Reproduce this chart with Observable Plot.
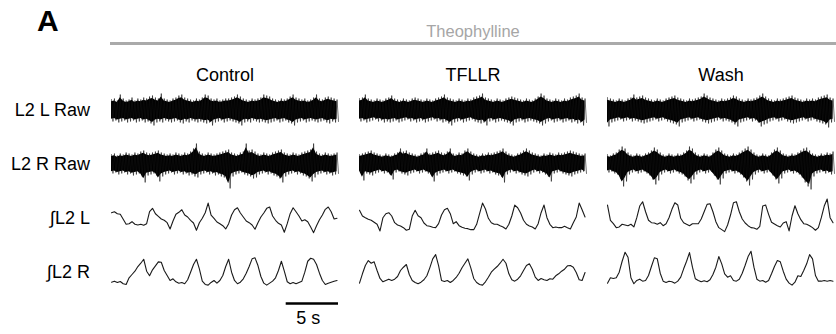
<!DOCTYPE html>
<html><head><meta charset="utf-8">
<script src="https://cdn.jsdelivr.net/npm/d3@7"></script>
<script src="https://cdn.jsdelivr.net/npm/@observablehq/plot@0.6"></script>
<style>
body{margin:0;background:#fff;font-family:"Liberation Sans",Arial,sans-serif;}
#wrap{position:relative;width:836px;height:334px;overflow:hidden;}
#hdr{position:relative;width:836px;height:50px;}
.A{position:absolute;left:37px;top:6.3px;font-size:30px;font-weight:bold;line-height:1;color:#000;}
.drug{position:absolute;left:110px;width:726px;top:23.3px;font-size:16.5px;line-height:1;color:#a6a6a6;text-align:center;}
.rule{position:absolute;left:110px;width:726px;top:42px;height:3px;background:#aaaaaa;}
#chart svg{display:block;}
</style></head><body>
<div id="wrap">
  <div id="hdr"><div class="A">A</div><div class="drug">Theophylline</div><div class="rule"></div></div>
  <div id="chart"></div>
</div>
<script>
// ---- categories ----
const conditions = ["Control", "TFLLR", "Wash"];
const channels = ["L2 L Raw", "L2 R Raw", "∫L2 L", "∫L2 R"];
const dt = 0.28;          // sample interval, s
const T = 21.7;           // seconds shown per condition
const scaleSeconds = 5;

// ---- raw trace envelopes (a.u., upper / lower) ----
const ctlRawLUp = [11,12,10,16,12,10,11,13,10,12, 11,13,12,14,15,13,12,17,12,11, 10,12,13,15,16,13,12,11,10,12, 11,13,16,15,12,11,12,10,11,12, 12,13,14,16,14,12,11,10,12,11, 12,13,16,15,14,12,11,10,12,11, 12,14,16,13,12,11,12,10,11,13, 16,12,11,13,14,13,12,11];
const ctlRawLDn = [-11,-10,-12,-11,-10,-12,-11,-10,-12,-11, -10,-12,-11,-13,-15,-12,-11,-12,-10,-11, -12,-11,-10,-12,-13,-11,-12,-10,-11,-12, -11,-12,-13,-12,-15,-12,-11,-10,-12,-11, -10,-11,-12,-13,-15,-12,-11,-12,-10,-11, -12,-11,-12,-13,-12,-11,-10,-12,-11,-10, -12,-13,-15,-12,-11,-10,-12,-11,-10,-11, -12,-11,-10,-12,-13,-11,-12,-11];
const ctlRawRUp = [10,11,9,11,10,12,11,10,12,11, 13,14,12,11,12,13,14,12,11,10, 11,10,12,11,10,12,11,13,16,21, 13,11,10,12,11,10,11,12,13,14, 15,12,11,10,12,13,21,14,15,13, 11,10,12,11,10,12,13,14,15,12, 11,10,12,11,10,12,13,14,15,21, 13,11,10,12,11,10,11,12];
const ctlRawRDn = [-9,-8,-10,-9,-8,-10,-9,-11,-10,-9, -12,-18,-11,-10,-9,-11,-17,-12,-10,-9, -8,-10,-9,-8,-10,-9,-11,-10,-12,-13, -10,-9,-8,-10,-9,-11,-10,-12,-13,-15, -24,-12,-10,-9,-8,-10,-11,-12,-14,-13, -10,-9,-8,-10,-9,-11,-12,-14,-18,-12, -10,-9,-8,-10,-9,-11,-12,-14,-17,-13, -10,-9,-8,-10,-9,-11,-10,-9];
const tfRawLUp = [12,13,16,12,11,10,12,11,10,12, 13,15,12,11,10,12,11,10,12,13, 12,11,10,12,11,10,12,13,14,16, 13,12,11,10,12,11,10,12,11,13, 14,15,17,13,12,11,10,12,11,10, 12,13,14,13,12,11,10,12,11,10, 12,14,17,15,12,11,10,12,11,10, 12,11,13,14,15,17,13,12];
const tfRawLDn = [-11,-10,-12,-11,-10,-9,-11,-10,-12,-11, -12,-11,-10,-12,-11,-10,-9,-11,-10,-12, -11,-10,-12,-11,-10,-9,-11,-10,-12,-11, -13,-15,-12,-11,-10,-12,-11,-10,-9,-11, -12,-13,-12,-15,-11,-10,-12,-11,-10,-11, -12,-13,-15,-12,-11,-10,-12,-11,-10,-11, -12,-13,-15,-13,-11,-10,-12,-11,-10,-12, -11,-10,-12,-11,-13,-12,-15,-12];
const tfRawRUp = [10,11,12,13,14,12,11,10,9,11, 10,9,11,12,16,13,14,12,11,10, 9,11,12,16,11,12,13,14,12,11, 13,16,11,10,12,11,14,16,13,11, 10,9,11,10,12,11,12,13,14,16, 13,11,10,9,11,12,14,16,14,12, 11,10,9,11,10,12,11,10,12,11, 12,13,14,13,12,11,10,11];
const tfRawRDn = [-8,-16,-9,-10,-11,-9,-8,-7,-9,-8, -10,-15,-8,-7,-9,-10,-11,-9,-8,-7, -9,-8,-7,-9,-10,-17,-11,-9,-8,-7, -9,-8,-7,-9,-10,-11,-12,-16,-10,-8, -7,-9,-8,-7,-9,-8,-10,-11,-12,-18, -10,-8,-7,-9,-8,-10,-11,-12,-10,-8, -7,-9,-8,-10,-12,-17,-9,-8,-7,-9, -10,-11,-12,-10,-9,-8,-7,-9];
const waRawLUp = [13,12,11,10,12,11,10,12,13,16, 13,14,15,13,12,11,10,12,11,10, 12,13,14,15,13,12,11,10,12,11, 12,13,14,17,15,13,12,11,10,12, 11,12,13,15,14,12,11,10,12,11, 12,13,15,17,14,12,11,10,12,11, 12,13,14,15,13,12,11,10,12,11, 12,11,13,14,15,16,13,12];
const waRawLDn = [-16,-12,-11,-10,-9,-11,-10,-9,-11,-10, -11,-12,-13,-12,-11,-10,-9,-11,-10,-9, -11,-12,-13,-14,-16,-12,-11,-10,-9,-11, -10,-9,-11,-12,-13,-12,-11,-10,-9,-11, -10,-11,-12,-14,-16,-12,-11,-10,-9,-11, -10,-12,-16,-14,-13,-11,-10,-9,-11,-10, -9,-11,-12,-13,-12,-11,-10,-9,-11,-10, -9,-11,-12,-13,-14,-17,-12,-11];
const waRawRUp = [10,9,11,12,15,18,16,12,10,9, 11,10,9,11,12,14,17,15,12,10, 9,11,10,9,11,10,12,14,18,16, 12,10,9,11,10,9,12,15,17,14, 11,10,9,11,10,12,14,16,18,15, 12,10,9,11,10,9,12,15,17,14, 11,10,9,11,10,12,14,16,17,14, 11,10,9,11,10,12,11,13];
const waRawRDn = [-8,-7,-9,-10,-14,-22,-17,-10,-8,-7, -9,-8,-7,-9,-11,-15,-20,-16,-10,-8, -7,-9,-8,-7,-9,-10,-12,-16,-19,-15, -10,-8,-7,-9,-8,-7,-11,-15,-20,-14, -9,-8,-7,-9,-8,-10,-13,-17,-21,-15, -10,-8,-7,-9,-8,-7,-11,-15,-19,-14, -9,-8,-7,-9,-8,-10,-13,-18,-22,-25, -12,-9,-8,-7,-9,-8,-10,-9];

// ---- integrated traces (a.u.) ----
const ctlIntL = [5.8,6.8,4.8,4.2,-0.8,-5.8,-5.2,-3.2,-5.8,-6.5, -5.8,-6.8,-5.2,6.8,10.2,4.8,2.2,-0.5,-1.8,-4.2, -10.5,-2.5,4.2,6.2,8.8,3.5,1.5,-1.8,-4.5,-11.8, -4.2,0.2,5.8,15.5,3.5,0.2,-3.5,-5.2,-7.2,-10.5, -5.2,3.5,8.8,10.8,5.5,1.5,-2.5,-4.2,-6.5,-10.8, -4.2,1.5,5.5,10.2,11.5,2.5,-1.8,-4.8,-6.5,-13.8, -5.2,4.8,10.8,6.8,2.5,-2.5,-1.2,-3.2,-8.5,-14.2, -7.2,-1.2,3.5,9.2,11.5,6.8,-0.5,0.2];
const ctlIntR = [-9.7,-8.7,-10,-9,-11.3,-12,-5.3,-2,1.3,6, 9.3,13.3,1.3,-3.3,2.7,6.7,10.7,10.3,2,-3, -8,-6.3,-9.3,-10.7,-10,-11.3,-7.3,0.3,8,13.3, 3.7,-8.7,-12,-12.7,-10,-8,-10.7,-8,-3,6, 13.3,0.3,-8,-11.3,-9.7,-6.3,-0.7,6,13.7,14.7, 7,-4,-10.7,-12.7,-10.7,-8.7,-5.3,2,11.3,1.3, -9.3,-11.3,-10,-11.3,-10,-8.7,0.3,11.3,14.3,13.3, 8,-0.7,-8,-12,-10.7,-9.7,-8.7,-8];
const tfIntL = [8.2,2.5,0.8,-0.8,-1.8,-3.8,-5.8,-12.5,0.8,4.8, 5.8,2.5,-4.2,-6.5,-7.5,-9.2,-11.8,-10.8,2.5,8.2, 2.8,0.8,-4.5,-7.2,-7.8,-8.8,-9.2,-5.2,3.5,8.8, 10.2,4.8,-5.2,-3.2,-7.2,-8.8,-9.8,-10.2,-11.2,-11.2, -5.8,4.8,15.5,9.5,0.2,-4.2,-5.8,-5.8,-7.2,-8.5, -10.5,-5.8,2.5,13.5,10.8,5.5,-1.8,-5.8,-7.5,-8.5, -10.5,-5.2,5.8,13.5,0.8,-5.8,-9.2,-8.5,-9.2,-9.2, -7.8,-9.2,-10.5,-4.2,1.5,15.5,8.8,1.5];
const tfIntR = [-10.7,-1.3,7,12,9.3,10.7,2,-6,-9.3,-8, -6.7,-8,-6.7,-4,2,5.3,8,-2,-8,-10, -11.3,-9.7,-7.3,-3.3,4.7,13.7,18,7,-8,-9, -8,-10,-8,-5,-0.7,4.7,9.3,13.7,4.7,-6, -10,-12,-12.7,-9.3,-4.7,0.3,3.3,6,9.3,13.3, 9.3,-1.3,-7.3,-8.7,-6.7,-3.3,2,7,8.7,3.3, -4.7,-8,-6,-7.3,-8,-6.3,-6.7,-3.3,-1.3,1.3, 3.3,6.7,7,5.3,0,-7.3,-8,0];
const waIntL = [13.5,-1.8,-5.2,-9.2,-8.5,-5.8,-6.5,-7.2,-5.8,-8.5, 0.8,12.5,16.8,6.8,-1.8,-4.2,-4.5,-5.8,-4.2,-7.2, -5.2,0.8,9.2,15.8,13.5,0.2,-4.2,-5.8,-7.2,-5.2, -5.2,-5.2,-0.5,6.8,14.2,14.8,6.8,-3.2,-9.2,-11.2, -13.2,-6.5,3.5,15.8,16.8,6.8,-0.5,-4.5,-7.2,-9.2, -9.5,-10.8,-7.8,12.5,13.5,4.2,-3.8,-5.5,-7.2,-8.5, -4.5,-3.2,-12.5,2.5,12.8,4.8,-1.2,-5.2,-5.8,-7.2, -9.2,-11.8,-9.2,0.8,12.5,19.5,0.8,-4.2];
const waIntR = [-10.7,-5.3,-6,-5.3,0.3,11.3,20.3,15.3,-5.3,-11.3, -8,-6.7,-8.7,-8,-3,6,14.7,13.7,-0.7,-8.7, -10,-8.7,-9.3,-10.7,-8.7,-4.7,3.7,11.3,20,5.3, -6.3,-8,-9.3,-8.3,-9.3,-7.3,-2,5.3,16,8.7, -1.3,-4.7,-3.3,-8,-8.7,-6.7,-0.7,7.3,16,21.3, 5.3,-6.7,-8.7,-8,-9.7,-8,-1.3,6,12,10.7, 1.3,-6.7,-10.7,-12.7,-9.7,-3.3,-4,2,8.7,18, 13.7,-3,-8.7,-8.7,-8,-8.7,-8,-8.7];

// ---- tables built from the arrays ----
const rawTraces = [
  ["Control", "L2 L Raw", ctlRawLUp, ctlRawLDn], ["Control", "L2 R Raw", ctlRawRUp, ctlRawRDn],
  ["TFLLR", "L2 L Raw", tfRawLUp, tfRawLDn], ["TFLLR", "L2 R Raw", tfRawRUp, tfRawRDn],
  ["Wash", "L2 L Raw", waRawLUp, waRawLDn], ["Wash", "L2 R Raw", waRawRUp, waRawRDn]
];
const intTraces = [
  ["Control", "∫L2 L", ctlIntL], ["Control", "∫L2 R", ctlIntR],
  ["TFLLR", "∫L2 L", tfIntL], ["TFLLR", "∫L2 R", tfIntR],
  ["Wash", "∫L2 L", waIntL], ["Wash", "∫L2 R", waIntR]
];
const rawRows = rawTraces.flatMap(([cond, chan, up, dn]) => up.map((u, i) => ({cond, chan, t: i * dt, up: u, dn: dn[i]})));
// raw signal drawn as a dense excursion between each upper and lower sample
const rawZig = rawRows.flatMap(d => [{cond: d.cond, chan: d.chan, t: d.t, v: d.up}, {cond: d.cond, chan: d.chan, t: d.t + dt / 2, v: d.dn}]);
const intRows = intTraces.flatMap(([cond, chan, v]) => v.map((y, i) => ({cond, chan, t: i * dt, v: y})));
const scaleBar = [{cond: "Control", chan: "∫L2 R", seconds: scaleSeconds}];
const core = 0.8; // solid core of the raw band, as a fraction of its envelope

const chart = Plot.plot({
  width: 836, height: 284,
  marginLeft: 110, marginRight: 1, marginTop: 32.4, marginBottom: 34.8,
  style: {fontFamily: '"Liberation Sans", Arial, sans-serif', fontSize: "18px", background: "white", color: "black", overflow: "visible"},
  x: {domain: [0, T], axis: null},
  y: {domain: [-27.1, 27.1], axis: null},
  fx: {domain: conditions, paddingInner: 0.0853, paddingOuter: 0, label: null},
  fy: {domain: channels, paddingInner: 0, paddingOuter: 0, label: null},
  marks: [
    Plot.axisFx({anchor: "top", tickSize: 0, tickPadding: 3, label: null, fontSize: 18}),
    Plot.axisFy({anchor: "left", tickSize: 0, tickPadding: 21.5, label: null, fontSize: 18}),
    Plot.areaY(rawRows, {fx: "cond", fy: "chan", x: "t", y1: d => core * d.dn, y2: d => core * d.up, fill: "black", curve: "linear"}),
    Plot.lineY(rawZig, {fx: "cond", fy: "chan", x: "t", y: "v", stroke: "#111", strokeWidth: 0.6}),
    Plot.lineY(intRows, {fx: "cond", fy: "chan", x: "t", y: "v", stroke: "#1a1a1a", strokeWidth: 1.1}),
    Plot.ruleY(scaleBar, {fx: "cond", fy: "chan", x1: d => T - d.seconds, x2: () => T, y: () => -31.2, stroke: "black", strokeWidth: 2.5}),
    Plot.text(scaleBar, {fx: "cond", fy: "chan", x: d => T - d.seconds / 2, y: () => -51.2, text: d => `${d.seconds} s`, lineAnchor: "bottom", dx: -4, fontSize: 18, fill: "black"})
  ]
});
document.getElementById("chart").appendChild(chart);
</script>
</body></html>
